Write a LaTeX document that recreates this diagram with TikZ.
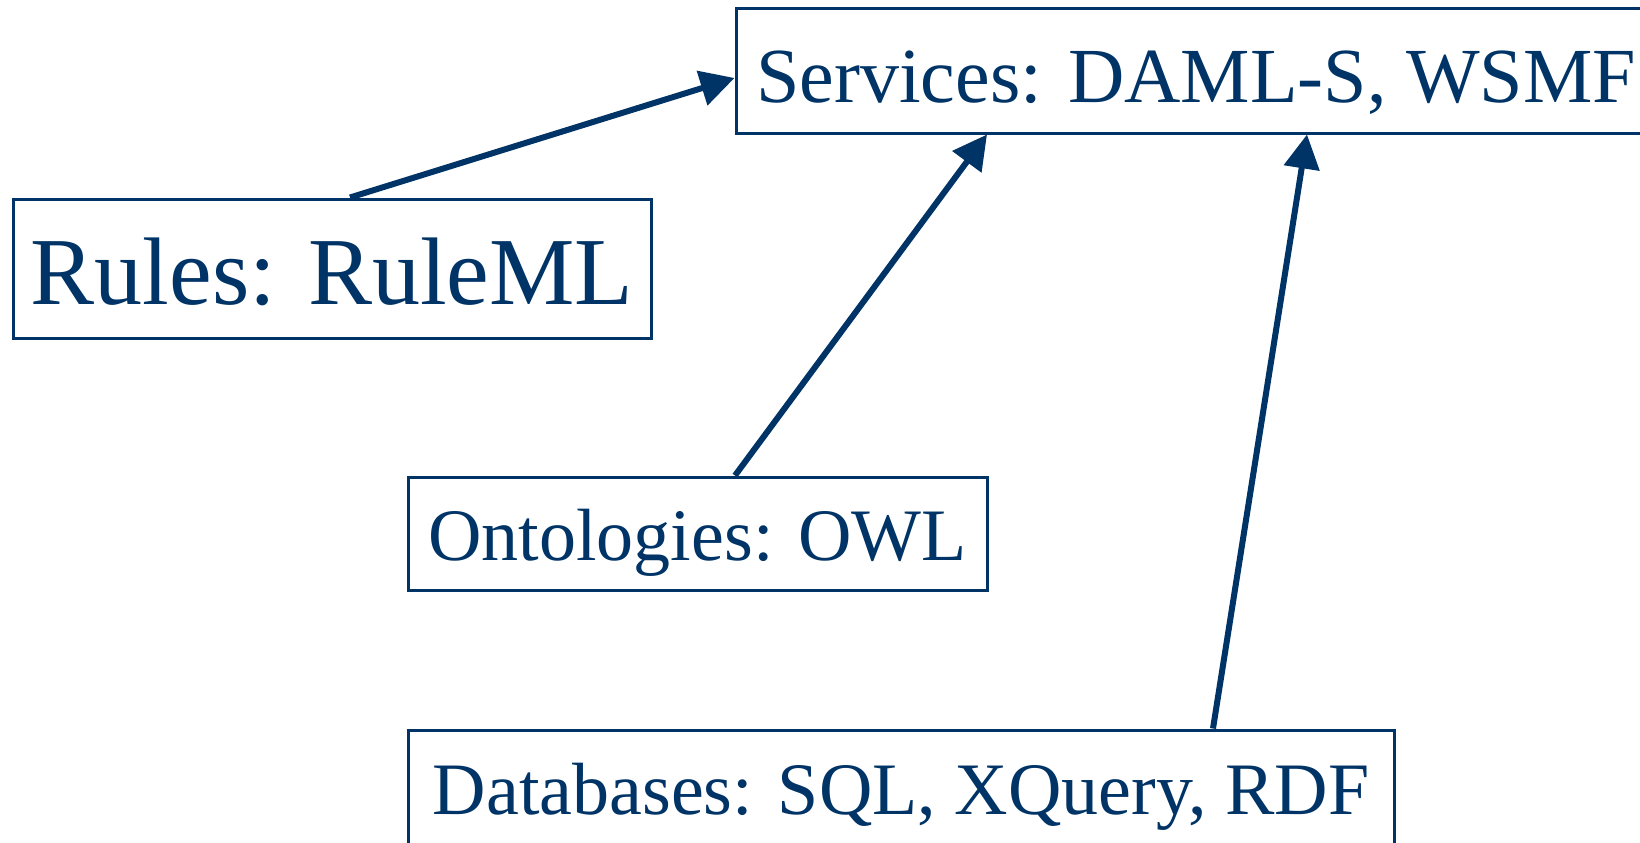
\documentclass[tikz,border=0pt]{standalone}
\usepackage{fontspec}
\setmainfont{Liberation Serif}
\usetikzlibrary{arrows.meta}
\definecolor{navy}{RGB}{0,51,102}
\tikzset{
  box/.style={draw=navy,line width=1.5pt,inner sep=0pt,text=navy,text depth=0pt},
  link/.style={navy,line width=3pt,-{Triangle[length=17pt,width=17.5pt]}}
}
\begin{document}
\begin{tikzpicture}[x=0.5pt,y=-0.5pt]
          \useasboundingbox (0,0) rectangle (1640,842);
          \clip (0,0) rectangle (1640,842);
          \node[box,minimum width=460pt,minimum height=62.5pt,text height=32.2pt,font=\fontsize{39pt}{39pt}\selectfont] (services) at (1196,70.5) {Services: DAML-S, WSMF};
          \node[box,minimum width=319pt,minimum height=69.5pt,text height=35.5pt,font=\fontsize{48pt}{48pt}\selectfont] (rules) at (332,268.5) {Rules: RuleML};
          \node[box,minimum width=289.5pt,minimum height=56.5pt,text height=27.2pt,font=\fontsize{37pt}{37pt}\selectfont] (onto) at (697.5,533.5) {Ontologies: OWL};
          \node[box,minimum width=493pt,minimum height=57.5pt,text height=26.5pt,font=\fontsize{37pt}{37pt}\selectfont] (db) at (901,787.5) {Databases: SQL, XQuery, RDF};
          \draw[link] ([xshift=9pt]rules.north) -- ([yshift=-3.75pt]services.west);
          \draw[link] ([xshift=18.75pt]onto.north) -- ([xshift=-104.5pt]services.south);
          \draw[link] ([xshift=156pt]db.north) -- ([xshift=55.5pt]services.south);
        \end{tikzpicture}
\end{document}
